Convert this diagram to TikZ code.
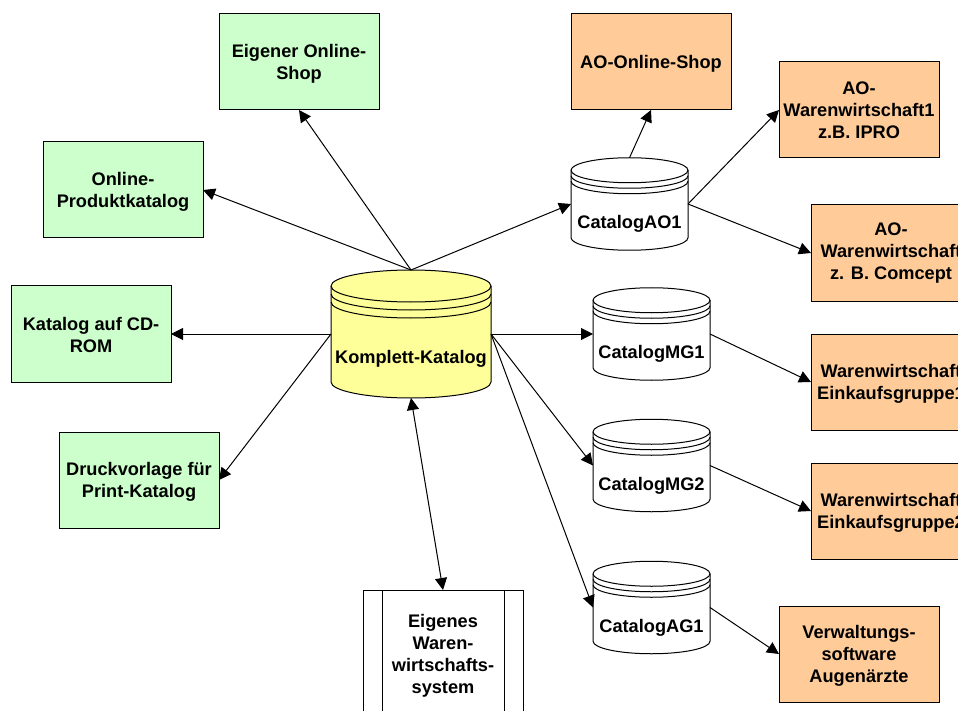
\documentclass[tikz,border=0pt]{standalone}
\usepackage{fontspec}
\setmainfont{Liberation Sans}
\usetikzlibrary{arrows.meta}

\definecolor{boxgreen}{HTML}{CCFFCC}
\definecolor{boxorange}{HTML}{FFCC99}
\definecolor{dbyellow}{HTML}{FFFF99}

\newcommand{\topgap}{\rule{0pt}{16pt}}

\tikzset{
  box/.style={inner sep=0pt,outer sep=0pt,minimum width=160pt,minimum height=96pt,align=center,draw,line width=1pt,font=\fontsize{18.2}{22}\selectfont\bfseries},
  greenbox/.style={box,fill=boxgreen},
  orangebox/.style={box,fill=boxorange},
  catalog/.style={inner sep=0pt,outer sep=0pt,minimum width=117pt,minimum height=92.5pt},
  bigdb/.style={inner sep=0pt,outer sep=0pt,minimum width=160pt,minimum height=128pt},
  dblabel/.style={inner sep=0pt,font=\fontsize{18.2}{22}\selectfont\bfseries},
  link/.style={line width=1pt,-{Triangle[length=12pt,width=12pt]}},
  biglink/.style={line width=1pt,{Triangle[length=12pt,width=12pt]}-{Triangle[length=12pt,width=12pt]}}
}

% name, half width, ellipse radius, gap between rims, fill
\newcommand{\dbshape}[5]{
  \draw[line width=1pt,fill=#5] ([yshift=-#3]#1.north west) arc[start angle=180,end angle=0,x radius=#2,y radius=#3]
    -- ([yshift=#3]#1.south east) arc[start angle=360,end angle=180,x radius=#2,y radius=#3] -- cycle;
  \draw[line width=1pt] ([yshift=-#3]#1.north west) arc[start angle=180,end angle=360,x radius=#2,y radius=#3];
  \draw[line width=1pt] ([yshift=-#3-#4]#1.north west) arc[start angle=180,end angle=360,x radius=#2,y radius=#3];
  \draw[line width=1pt] ([yshift=-#3-#4-#4]#1.north west) arc[start angle=180,end angle=360,x radius=#2,y radius=#3];
}

\begin{document}
\begin{tikzpicture}[x=1pt,y=-1pt]
  \useasboundingbox (0,0) rectangle (958,711);
  \clip (0,0) rectangle (958,711);

  \node[greenbox] (ownshop) at (299,62) {\topgap Eigener Online-\\Shop};
  \node[greenbox] (onlinecat) at (123,190) {\topgap Online-\\Produktkatalog};
  \node[greenbox] (cdrom) at (91,334) {\topgap Katalog auf CD-\\ROM};
  \node[greenbox] (print) at (139,480) {\topgap Druckvorlage für\\Print-Katalog};

  \node[orangebox] (aoshop) at (651,62) {\topgap AO-Online-Shop};
  \node[orangebox] (aoww1) at (859,110) {AO-\\Warenwirtschaft1\\z.B. IPRO};
  \node[orangebox] (aoww2) at (891,253) {AO-\\Warenwirtschaft\hspace*{10pt}\\z. B. Comcept};
  \node[orangebox] (mgww1) at (891,382) {\topgap Warenwirtschaft\\Einkaufsgruppe1};
  \node[orangebox] (mgww2) at (891,511) {\topgap Warenwirtschaft\\Einkaufsgruppe2};
  \node[orangebox] (augen) at (859,654) {\topgap Verwaltungs-\\software\\Augenärzte};

  \node[box,minimum height=128pt] (eigensys) at (443,654) {\topgap Eigenes\\Waren-\\wirtschafts-\\system};
  \draw[line width=1pt] ([xshift=19pt]eigensys.north west) -- ([xshift=19pt]eigensys.south west);
  \draw[line width=1pt] ([xshift=-19pt]eigensys.north east) -- ([xshift=-19pt]eigensys.south east);

  \node[bigdb] (komplett) at (411,334) {};
  \dbshape{komplett}{80pt}{16pt}{8pt}{dbyellow}
  \node[dblabel] (komplettlabel) at ([yshift=-25pt]komplett.center) {Komplett-Katalog};

  \node[catalog] (ao1) at (629.5,204) {};
  \dbshape{ao1}{58.5pt}{12.5pt}{5.5pt}{white}
  \node[dblabel] (ao1label) at ([yshift=-20pt]ao1.center) {CatalogAO1};

  \node[catalog] (mg1) at (651.5,334) {};
  \dbshape{mg1}{58.5pt}{12.5pt}{5.5pt}{white}
  \node[dblabel] (mg1label) at ([yshift=-20pt]mg1.center) {CatalogMG1};

  \node[catalog] (mg2) at (651.5,465.5) {};
  \dbshape{mg2}{58.5pt}{12.5pt}{5.5pt}{white}
  \node[dblabel] (mg2label) at ([yshift=-20pt]mg2.center) {CatalogMG2};

  \node[catalog] (ag1) at (651.5,607.5) {};
  \dbshape{ag1}{58.5pt}{12.5pt}{5.5pt}{white}
  \node[dblabel] (ag1label) at ([yshift=-20pt]ag1.center) {CatalogAG1};

  \draw[link] (komplett.north) -- (ownshop.south);
  \draw[link] (komplett.north) -- (onlinecat.east);
  \draw[link] (komplett.north) -- (ao1.west);
  \draw[link] (komplett.west) -- (cdrom.east);
  \draw[link] (komplett.west) -- (print.east);
  \draw[link] (komplett.east) -- (mg1.west);
  \draw[link] (komplett.east) -- (mg2.west);
  \draw[link] (komplett.east) -- (ag1.west);
  \draw[biglink] (komplett.south) -- (eigensys.north);
  \draw[link] (ao1.north) -- (aoshop.south);
  \draw[link] (ao1.east) -- (aoww1.west);
  \draw[link] (ao1.east) -- (aoww2.west);
  \draw[link] (mg1.east) -- (mgww1.west);
  \draw[link] (mg2.east) -- (mgww2.west);
  \draw[link] (ag1.east) -- (augen.west);
\end{tikzpicture}
\end{document}
